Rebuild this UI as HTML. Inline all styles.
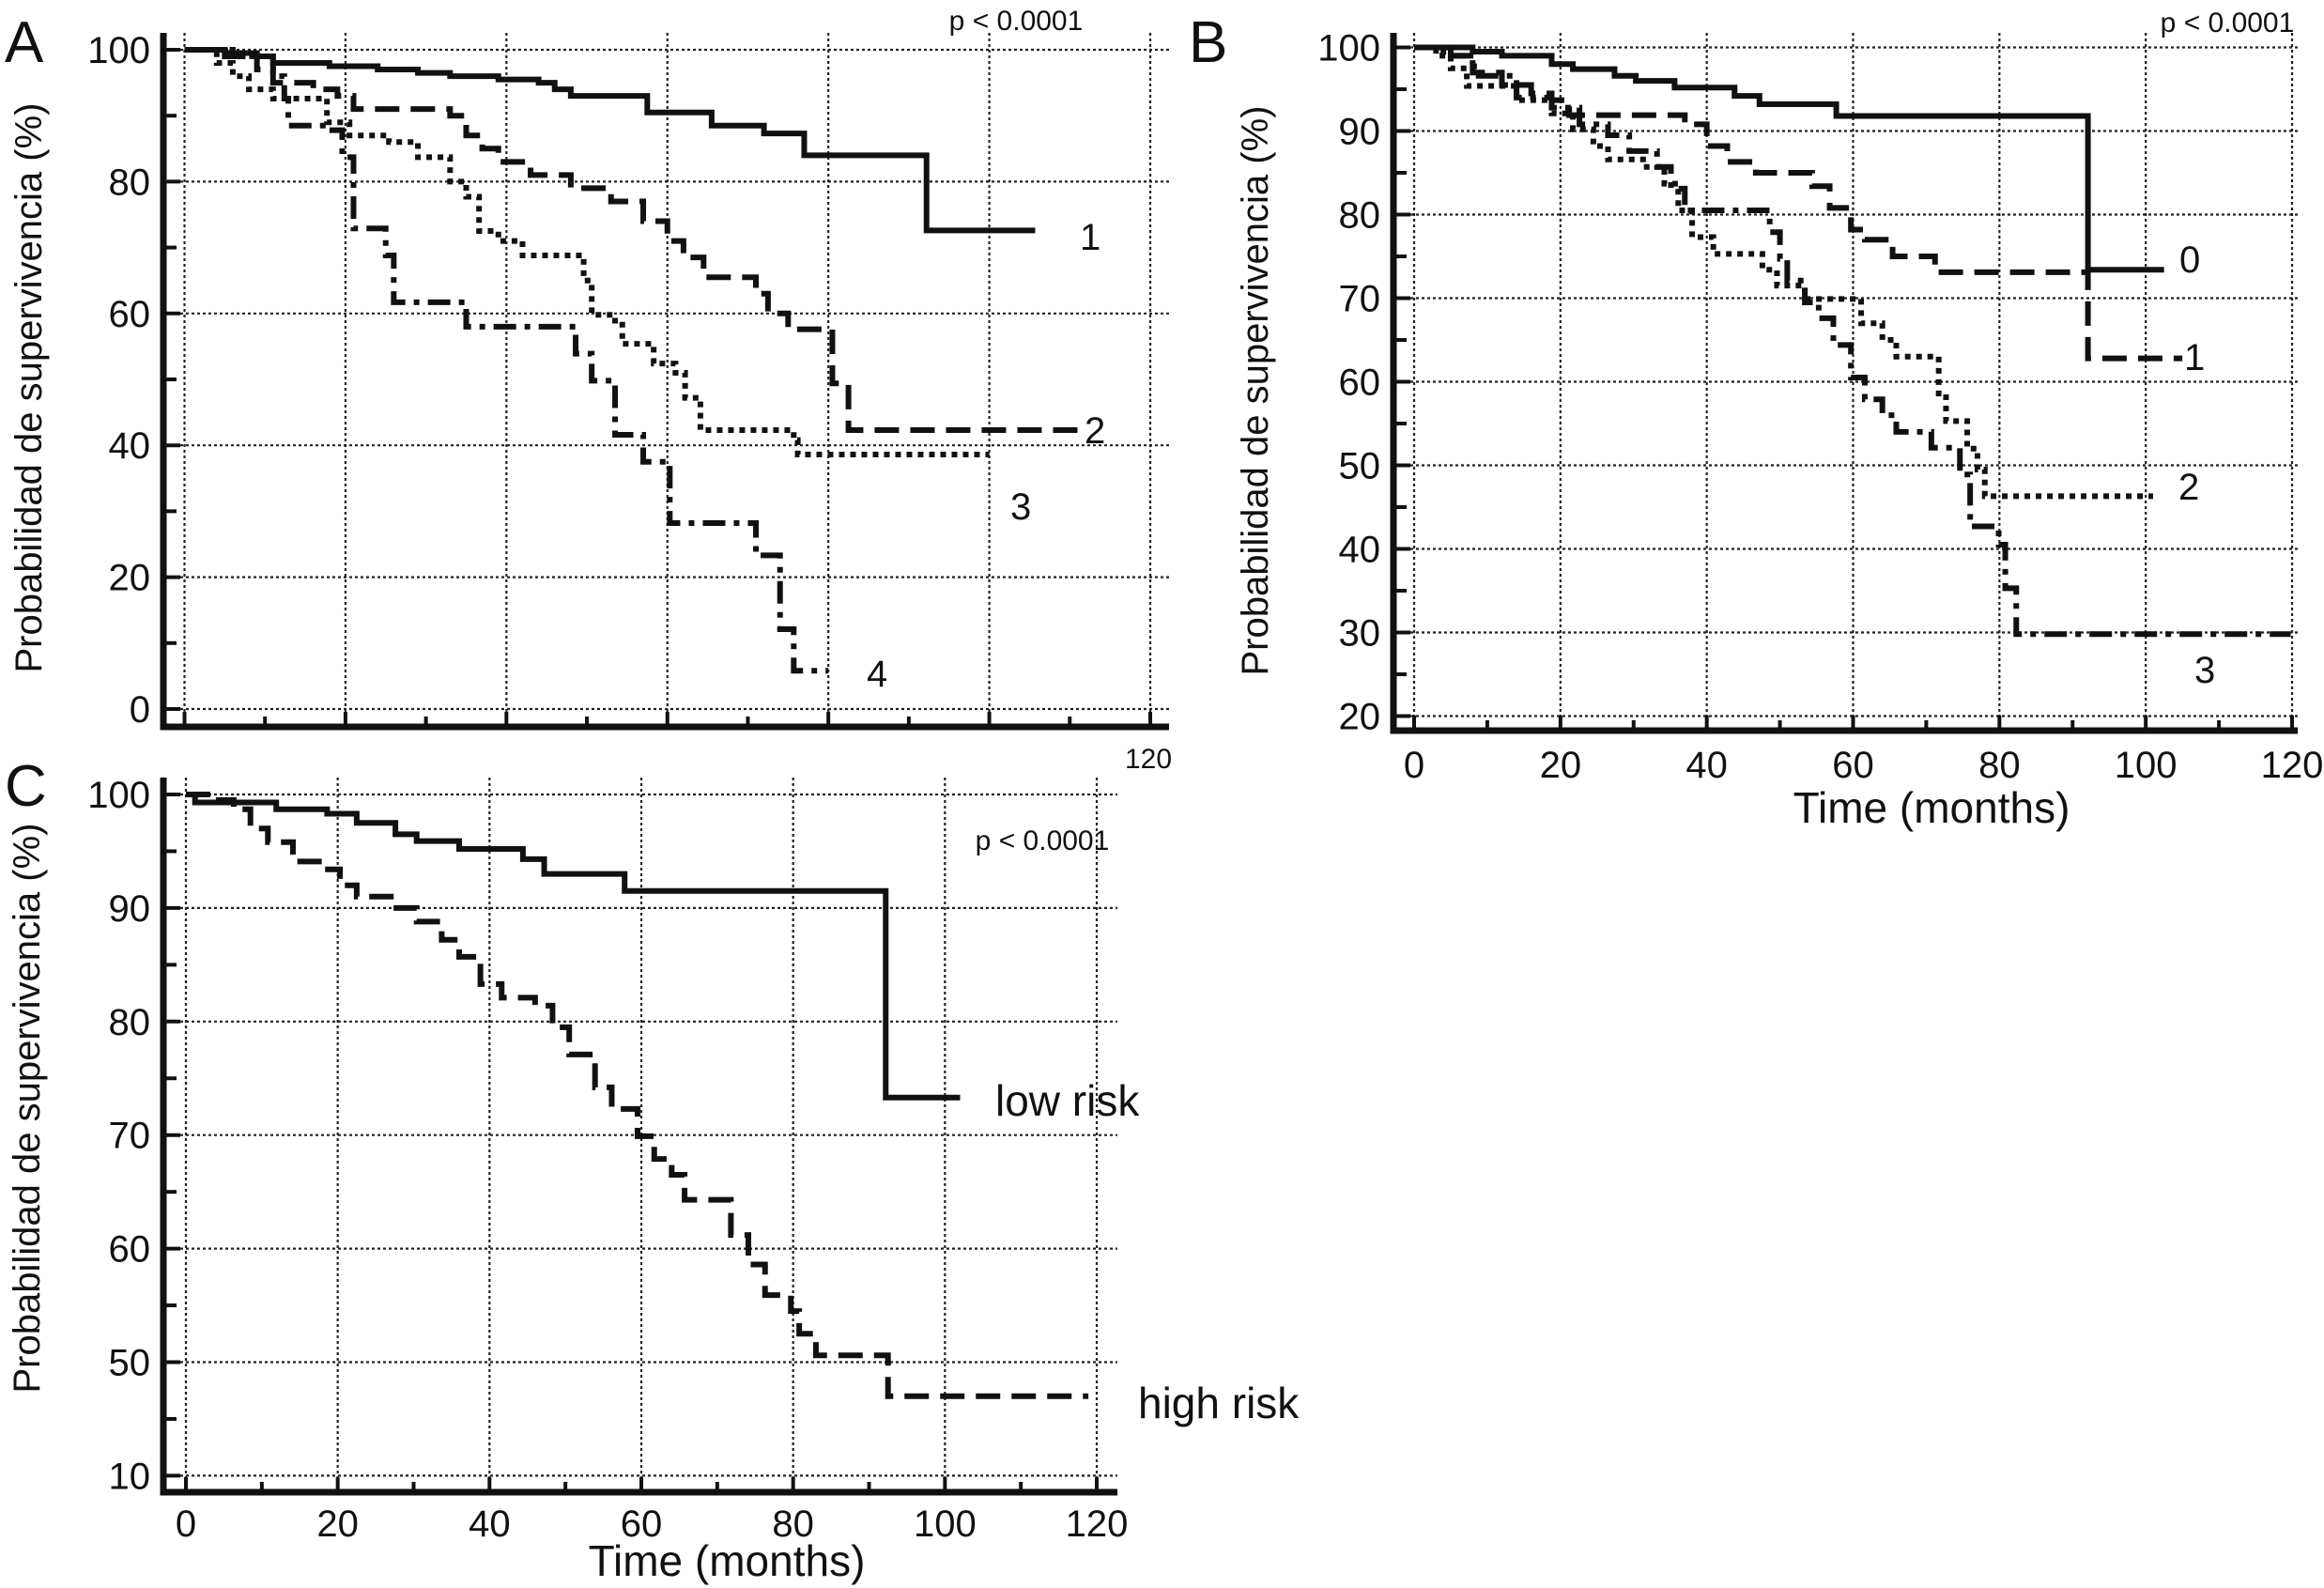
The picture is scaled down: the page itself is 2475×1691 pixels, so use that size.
<!DOCTYPE html>
<html><head><meta charset="utf-8"><style>
html,body{margin:0;padding:0;background:#fff;}
svg{display:block;font-family:"Liberation Sans",sans-serif;}
</style></head><body>
<svg id="fig" width="2475" height="1691" viewBox="0 0 2475 1691" xmlns="http://www.w3.org/2000/svg">
<rect width="2475" height="1691" fill="#fff"/>
</svg>
<script>
// ---- Panel A data ----
const aCurve1 = [[0,100],[5,99.5],[9,99],[11,98],[18,97.5],[24,97],[29,96.5],[33,96],[39,95.5],[44,95],[46,94],[48,93],[57.5,90.5],[65.5,88.5],[72,87.3],[77,84],[92.2,72.6]];
const aCurve1End = 105.7;
const aCurve2 = [[0,100],[5,99],[9,97],[11,95],[16,94],[19,93],[21,91],[33,90],[35,87],[37,85],[39,83],[43,81],[48,79],[53,77],[57,74],[60,71],[62,68.5],[64.5,65.5],[71,63],[72.5,60],[75,57.6],[80.5,49.4],[82.5,42.3]];
const aCurve2End = 111;
const aCurve3 = [[0,100],[4,98],[6,96],[8,94],[11,92.6],[17.7,89],[20.5,87],[25.4,86],[29,83.7],[33,80],[35,77.7],[36.6,72.5],[39,71],[42,68.8],[49.6,65],[50.6,59.8],[53.5,58.3],[54.4,55.4],[58.3,52.4],[61,51],[62.2,47.2],[64.1,42.3],[75.7,40.8],[76.2,38.6]];
const aCurve3End = 100;
const aCurve4 = [[0,100],[6,99],[11,96],[12.4,92.6],[12.9,88.5],[18,87.8],[19.6,83.7],[21,72.9],[25,68.8],[26,61.7],[35,58],[48.6,53.9],[50.6,49.8],[53.5,41.6],[57,37.5],[60.3,28.2],[71,23.3],[74,12.1],[75.7,5.8]];
const aCurve4End = 80;
const aYTicks = [0,20,40,60,80,100];
const aYLabels = ["0","20","40","60","80","100"];
// ---- Panel B data ----
const bCurve0 = [[0,100],[8,99.5],[12,99],[18.8,98],[21.7,97.4],[27.4,96.6],[30.3,96],[35.6,95.2],[43.8,94.2],[47.2,93.2],[57.7,91.8],[92.1,73.4]];
const bCurve0End = 102.5;
const bCurve1 = [[0,100],[5,99],[8,97],[12,95.5],[16,94.5],[18.8,93.7],[21.2,91.9],[37,90.8],[40,88.2],[42.8,86.3],[46.7,85],[54.4,83.4],[56.8,80.8],[59.7,78.2],[61.6,77],[65.4,75],[71.2,73.1],[92.1,62.8]];
const bCurve1End = 105;
const bCurve2 = [[0,100],[3,99],[5,97.5],[7.2,95.4],[14,93.7],[18.8,92.1],[21.7,90.2],[24.5,88.2],[26.5,86.6],[31.3,85.7],[34.2,83.7],[36.1,80.5],[38,77.3],[40.9,75.3],[47.6,73.4],[49.6,71.5],[53.4,69.9],[61.1,67],[64,65],[65.9,63],[71.7,58.6],[72.7,55.3],[75.6,52],[77,49.5],[78,46.3]];
const bCurve2End = 101;
const bCurve3 = [[0,100],[4,99],[8.2,96.6],[14,94],[18.8,92.8],[22.6,90.8],[26.5,89.5],[29.4,87.6],[33.2,85.7],[35.1,83.1],[37,80.5],[48.6,77.9],[50,74.7],[51,72.1],[53.4,69.5],[55.3,67.6],[57.3,64.4],[59.7,60.5],[61.6,57.9],[64,56],[65.9,54],[70.7,52.1],[74.6,48.9],[76,42.7],[79.9,40.5],[80.8,35.3],[82.3,29.8]];
const bCurve3End = 119.8;
const bYTicks = [20,30,40,50,60,70,80,90,100];
const bYLabels = ["20","30","40","50","60","70","80","90","100"];
// ---- Panel C data ----
const cLow = [[0,100],[1.2,99.3],[11.9,98.7],[18.6,98.3],[22.5,97.5],[27.6,96.5],[30.4,95.9],[36,95.2],[44.4,94.3],[47.2,93],[57.8,91.5],[92.2,73.3]];
const cLowEnd = 102;
const cHigh = [[0,100],[3.5,99.5],[6.3,98.7],[8.5,97],[10.8,95.8],[14.1,94.1],[18,93.4],[20.3,92],[22.5,91],[27,90],[30.4,88.8],[33.7,87.2],[36,85.7],[38.8,83.3],[41.6,82.1],[46,81.4],[48.3,79.5],[50.5,77.1],[53.9,74.2],[56.1,72.3],[59.5,69.9],[61.7,67.9],[64,66.5],[65.7,64.3],[71.8,61.2],[74.1,58.6],[76.3,55.9],[79.7,54.5],[80.8,52.5],[83,50.6],[92.5,47]];
const cHighEnd = 118.9;
const cYTicks = [40,50,60,70,80,90,100];
const cYLabels = ["10","50","60","70","80","90","100"];
const xTicks = [0,20,40,60,80,100,120];
const xLabels = ["0","20","40","60","80","100","120"];

const NS = "http://www.w3.org/2000/svg";
const svg = document.getElementById('fig');
function mk(tag, attrs, parent, text){
  const e = document.createElementNS(NS, tag);
  for (const k in attrs) e.setAttribute(k, attrs[k]);
  if (text !== undefined) e.textContent = text;
  (parent||svg).appendChild(e);
  return e;
}
function scaleX(p){ return t => p.x0 + (t/120)*(p.x120-p.x0); }
function scaleY(p){ return v => p.yTop + (p.vTop - v)*p.ppu; }

function panel(p){
  const g = mk('g', {});
  
  
  const X = scaleX(p), Y = scaleY(p);
  const grid = mk('g', {stroke:'#222','stroke-width':2.2,'stroke-dasharray':'3 3',fill:'none'}, g);
  
  
  p.gridX.forEach(t => { mk('line',{x1:X(t),x2:X(t),y1:p.gridTop,y2:p.axisY},grid); });
  p.yTicks.forEach(v => { if (p.gridY.includes(v)) mk('line',{x1:p.axisX,x2:p.gridRight,y1:Y(v),y2:Y(v)},grid); });
  const ax = mk('path',{d:`M${p.axisX},${p.axisTop} V${p.axisY} H${p.axisRight}`,stroke:'#111','stroke-width':7,fill:'none'},g);
  
  
  const tk = mk('g',{stroke:'#111','stroke-width':4},g);
  
  
  for (let t=0;t<=120;t+=10) mk('line',{x1:X(t),x2:X(t),y1:p.axisY,y2:p.axisY-(t%20===0?16:11)},tk);
  p.minorY.forEach(v => mk('line',{x1:p.axisX,x2:p.axisX+14,y1:Y(v),y2:Y(v)},tk));
  p.yTicks.forEach(v => mk('line',{x1:p.axisX,x2:p.axisX+18,y1:Y(v),y2:Y(v)},tk));
  p.yTicks.forEach((v,i) => {
    const t = mk('text',{x:p.labX,y:Y(v)+14,'text-anchor':'end','font-size':40,fill:'#111'},g,p.yLabels[i]);
    
    
  });
  if (p.xLabels) xTicks.forEach((t,i) => {
    const e = mk('text',{x:X(t),y:p.xLabY,'text-anchor':'middle','font-size':40,fill:'#111'},g,xLabels[i]);
    
    
  });
  p.curves.forEach(c => {
    let d = `M${X(c.pts[0][0])},${Y(c.pts[0][1])}`;
    for (let i=1;i<c.pts.length;i++) d += ` H${X(c.pts[i][0])} V${Y(c.pts[i][1])}`;
    d += ` H${X(c.end)}`;
    const e = mk('path',{d:d,stroke:'#111','stroke-width':c.w||6,fill:'none','stroke-dasharray':c.dash||'none'},g);
    
    
  });
  return g;
}
const DASH='26 12', DOT='6 6', DASHDOT='24 9 6 9';
panel({name:'panel-a',x0:196.5,x120:1225,yTop:53,vTop:100,ppu:7.02,axisX:174,axisY:774,axisTop:35,axisRight:1245,gridTop:35,gridRight:1245,
  gridX:[0,20,40,60,80,100,120],gridY:[0,20,40,60,80,100],yTicks:aYTicks,yLabels:aYLabels,minorY:[10,30,50,70,90],labX:160,xLabels:false,
  curves:[{name:'curve-1',pts:aCurve1,end:aCurve1End},{name:'curve-2',pts:aCurve2,end:aCurve2End,dash:DASH},{name:'curve-3',pts:aCurve3,end:aCurve3End,dash:DOT},{name:'curve-4',pts:aCurve4,end:aCurve4End,dash:DASHDOT}]});
panel({name:'panel-b',x0:1506,x120:2441,yTop:50.5,vTop:100,ppu:8.9,axisX:1484,axisY:778,axisTop:35,axisRight:2447,gridTop:35,gridRight:2447,
  gridX:[0,20,40,60,80,100,120],gridY:[20,30,40,50,60,70,80,90,100],yTicks:bYTicks,yLabels:bYLabels,minorY:[25,35,45,55,65,75,85,95],labX:1470,xLabels:true,xLabY:828,
  curves:[{name:'curve-0',pts:bCurve0,end:bCurve0End},{name:'curve-1',pts:bCurve1,end:bCurve1End,dash:DASH},{name:'curve-2',pts:bCurve2,end:bCurve2End,dash:DOT},{name:'curve-3',pts:bCurve3,end:bCurve3End,dash:DASHDOT}]});
panel({name:'panel-c',x0:198,x120:1168,yTop:846,vTop:100,ppu:12.09,axisX:174,axisY:1589,axisTop:828,axisRight:1190,gridTop:828,gridRight:1190,
  gridX:[0,20,40,60,80,100,120],gridY:[40,50,60,70,80,90,100],yTicks:cYTicks,yLabels:cYLabels,minorY:[45,55,65,75,85,95],labX:160,xLabels:true,xLabY:1636,
  curves:[{name:'low-risk-curve',pts:cLow,end:cLowEnd},{name:'high-risk-curve',pts:cHigh,end:cHighEnd,dash:DASH}]});

function label(x,y,txt,size,name,anchor,rot){
  const a = {x:x,y:y,'font-size':size,fill:'#111','text-anchor':anchor||'start'};
  if (rot) a.transform = `rotate(-90 ${x} ${y})`;
  const e = mk('text',a,svg,txt);
  
  
}
label(5,66,'A',62,'panel-letter-a');
label(1266,66,'B',62,'panel-letter-b');
label(5,858,'C',62,'panel-letter-c');
label(1082,32,'p < 0.0001',30,'p-value-a','middle');
label(2372,34,'p < 0.0001',30,'p-value-b','middle');
label(1110,905,'p < 0.0001',30,'p-value-c','middle');
label(1223,818,'120',30,'x-tick-label-a','middle');
label(44,413,'Probabilidad de supervivencia (%)',40,'y-axis-title-a','middle',true);
label(1350,416,'Probabilidad de supervivencia (%)',40,'y-axis-title-b','middle',true);
label(42,1180,'Probabilidad de supervivencia (%)',40,'y-axis-title-c','middle',true);
label(2057,876,'Time (months)',46,'x-axis-title-b','middle');
label(774,1678,'Time (months)',46,'x-axis-title-c','middle');
label(1150,266,'1',40,'label-curve-1');
label(1155,472,'2',40,'label-curve-2');
label(1076,553,'3',40,'label-curve-3');
label(923,731,'4',40,'label-curve-4');
label(2321,290,'0',40,'label-curve-0');
label(2326,394,'1',40,'label-curve-1b');
label(2320,532,'2',40,'label-curve-2b');
label(2337,727,'3',40,'label-curve-3b');
label(1060,1188,'low risk',46,'label-low-risk');
label(1212,1510,'high risk',46,'label-high-risk');
</script>
</body></html>
